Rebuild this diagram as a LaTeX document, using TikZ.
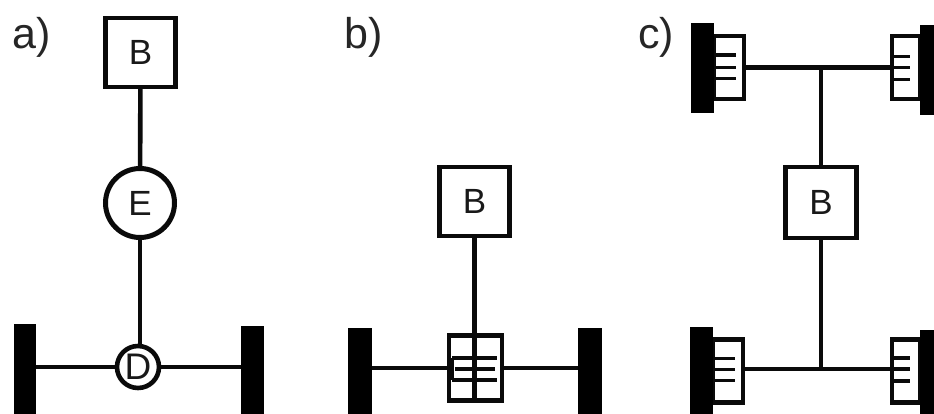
\documentclass[tikz,border=0pt]{standalone}
\usepackage{fontspec}
\setmainfont{Liberation Sans}
\definecolor{ink}{gray}{0.04}
\tikzset{
  x=1pt,y=-1pt,
  cnx/.style={draw=ink,line width=4.6pt},
  thin cnx/.style={draw=ink,line width=3.6pt},
  body/.style={draw=ink,line width=4.6pt,fill=white,inner sep=0pt,outer sep=0pt,minimum width=70pt,minimum height=69pt,font=\fontsize{35}{35}\selectfont,text=black!90},
  ring/.style={draw=ink,circle,fill=white,inner sep=0pt,outer sep=0pt,font=\fontsize{35}{35}\selectfont,text=black!90},
  wheel/.style={fill=black,inner sep=0pt,outer sep=0pt,minimum width=23pt,minimum height=90pt},
  hub/.style={draw=ink,line width=4.4pt,fill=white,inner sep=0pt,outer sep=0pt,minimum width=30pt,minimum height=63pt},
  lab/.style={inner sep=0pt,font=\fontsize{43}{43}\selectfont,text=black!85},
}
\begin{document}
\begin{tikzpicture}
\useasboundingbox (0,0) rectangle (934,414);
\clip (0,0) rectangle (934,414);
% a
\node[lab] (la) at (32,37) {a)};
\node[body] (aB) at (140.5,52.5) {B};
\node[ring,line width=5pt,minimum size=69pt] (aE) at (140,203) {E};
\node[ring,line width=4.6pt,minimum size=42pt,font=\fontsize{37}{37}\selectfont] (aD) at (138,367) {D};
\node[wheel,minimum width=22pt,minimum height=92pt] (aL) at (25,370) {};
\node[wheel,minimum width=23pt,minimum height=92pt] (aR) at (252.5,372) {};
\draw[cnx] (aB) -- (aE);
\draw[cnx] (aE) -- (aE|-aD.north);
\draw[cnx] (aL.east|-aD) -- (aD);
\draw[cnx] (aD) -- (aR.west|-aD);
% b
\node[lab] (lb) at (364,37) {b)};
\node[body] (bB) at (474.5,201.5) {B};
\node[draw=ink,line width=4.4pt,fill=white,inner sep=0pt,minimum width=53pt,minimum height=65pt] (bD) at (475.5,368) {};
\node[wheel,minimum width=24pt,minimum height=92pt] (bL) at (360,374) {};
\node[wheel,minimum width=24pt,minimum height=92pt] (bR) at (590,374) {};
\coordinate (b1) at (452,358);
\coordinate (b2) at (497,358);
\coordinate (b3) at (452,380);
\coordinate (b4) at (497,380);
\coordinate (b5) at (455,369);
\coordinate (b6) at (495,369);
\draw[cnx] (bB) -- (bB|-bD.south);
\draw[cnx] (bL.east|-bD) -- (bD.west);
\draw[cnx] (bD.east) -- (bR.west|-bD);
\draw[thin cnx] (b1) -- (b2);
\draw[thin cnx] (b3) -- (b4);
\draw[thin cnx] (b5) -- (b6);
\draw[thin cnx] (b1) -- (b3);
% c
\node[lab] (lc) at (656,37) {c)};
\node[body,minimum width=71pt,minimum height=71pt] (cB) at (821,202.5) {B};
\node[hub,anchor=west] (h1) at (714,67.5) {};
\node[wheel] (w1) at (702.5,68.5) {};
\node[hub,anchor=east,minimum width=28pt] (h2) at (920,67.5) {};
\node[wheel,minimum width=30pt] (w2) at (935,70) {};
\node[hub,anchor=west] (h3) at (713,371) {};
\node[wheel] (w3) at (701.5,372) {};
\node[hub,anchor=east,minimum width=28pt] (h4) at (920,371) {};
\node[wheel,minimum width=30pt] (w4) at (935,375) {};
\coordinate (t) at (cB|-h1);
\coordinate (u) at (821,369);
\draw[cnx] (h1.east) -- (t);
\draw[cnx] (t) -- (h2.west);
\draw[cnx] (t) -- (cB);
\draw[cnx] (cB) -- (u);
\draw[cnx] (h3.east|-u) -- (u);
\draw[cnx] (u) -- (h4.west|-u);
\foreach \d in {-12.5,0,11}{
  \draw[thin cnx] (h1.west) ++(0,\d) -- ++(22,0);}
\foreach \d in {-11,0,11}{
  \draw[thin cnx] (h3.west) ++(0,\d-1.5) -- ++(22,0);}
\foreach \d in {-11,0,12}{
  \draw[thin cnx] (h2.west) ++(0,\d) -- ++(18,0);
  \draw[thin cnx] (h4.west) ++(0,\d-2) -- ++(18,0);}
\end{tikzpicture}
\end{document}
